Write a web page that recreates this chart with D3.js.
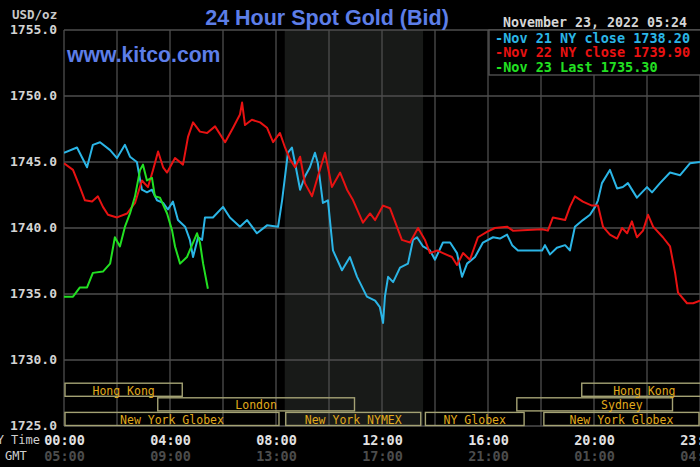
<!DOCTYPE html>
<html>
<head>
<meta charset="utf-8">
<script src="https://cdn.jsdelivr.net/npm/d3@7"></script>
<style>
  body { margin: 0; background: #000; }
  svg { display: block; }
  .mono { font-family: "DejaVu Sans Mono", monospace; }
</style>
</head>
<body>
<div id="vis"></div>
<script>
// y ticks (USD/oz) and x ticks (hours of the NY day)
const priceTicks = [1725, 1730, 1735, 1740, 1745, 1750, 1755];
const hourTicks = [0, 4, 8, 12, 16, 20, 24];
const nyLabels = ["00:00", "04:00", "08:00", "12:00", "16:00", "20:00", "23:59"];
const gmtLabels = ["05:00", "09:00", "13:00", "17:00", "21:00", "01:00", "04:59"];

// [hour, price]
const nov21 = [[0,1745.7],[0.49,1746.1],[0.87,1744.6],[1.09,1746.3],[1.36,1746.5],[1.74,1745.9],[2.0,1745.3],[2.3,1746.3],[2.49,1745.4],[2.75,1745.0],[2.94,1742.9],[3.13,1742.7],[3.32,1742.9],[3.51,1742.1],[3.74,1741.9],[3.92,1741.4],[4.11,1742.0],[4.3,1740.6],[4.57,1740.1],[4.75,1739.1],[4.87,1737.8],[5.06,1739.3],[5.21,1739.1],[5.32,1740.8],[5.62,1740.8],[6.0,1741.6],[6.26,1740.8],[6.64,1740.1],[6.91,1740.6],[7.28,1739.6],[7.66,1740.2],[8.08,1740.1],[8.23,1742.1],[8.45,1745.7],[8.6,1746.1],[8.72,1744.9],[8.91,1742.9],[9.09,1743.9],[9.28,1744.6],[9.47,1745.7],[9.58,1744.9],[9.77,1741.9],[9.96,1742.1],[10.15,1738.3],[10.49,1736.8],[10.79,1737.8],[11.06,1736.3],[11.43,1734.8],[11.74,1734.5],[11.92,1734.0],[12.04,1732.8],[12.11,1734.8],[12.23,1736.3],[12.42,1735.9],[12.68,1737.0],[12.98,1737.3],[13.17,1739.1],[13.32,1739.3],[13.55,1738.6],[13.81,1738.3],[14.0,1737.6],[14.3,1738.9],[14.57,1738.9],[14.83,1738.1],[15.02,1736.3],[15.21,1737.3],[15.51,1737.8],[15.81,1738.9],[16.19,1739.3],[16.45,1739.2],[16.72,1739.5],[16.91,1738.7],[17.13,1738.3],[18.04,1738.3],[18.15,1738.7],[18.34,1738.0],[18.6,1738.5],[18.91,1738.7],[19.09,1738.3],[19.28,1740.1],[19.58,1740.6],[19.85,1741.0],[20.04,1741.6],[20.15,1742.1],[20.3,1743.4],[20.6,1744.4],[20.87,1743.0],[21.09,1743.1],[21.28,1743.4],[21.62,1742.3],[22.0,1743.1],[22.19,1742.7],[22.49,1743.4],[22.87,1744.2],[23.25,1744.0],[23.62,1744.9],[24,1745.0]];

const nov22 = [[0,1744.9],[0.34,1744.4],[0.6,1743.1],[0.79,1742.1],[1.06,1742.0],[1.28,1742.4],[1.47,1741.6],[1.66,1741.0],[2.0,1740.8],[2.38,1741.1],[2.68,1741.9],[2.94,1743.6],[3.17,1743.1],[3.36,1744.4],[3.55,1745.8],[3.74,1744.6],[3.89,1744.2],[4.19,1745.3],[4.49,1744.8],[4.68,1746.9],[4.87,1748.0],[5.13,1747.3],[5.4,1747.2],[5.7,1747.7],[6.08,1746.5],[6.38,1747.6],[6.64,1748.6],[6.72,1749.5],[6.83,1747.8],[7.09,1748.2],[7.4,1748.0],[7.66,1747.6],[7.89,1746.5],[8.15,1747.2],[8.34,1746.1],[8.53,1745.2],[8.72,1744.6],[8.91,1745.4],[9.09,1743.4],[9.36,1742.4],[9.58,1743.9],[9.85,1745.7],[10.11,1743.1],[10.42,1744.2],[10.68,1742.9],[10.91,1742.1],[11.28,1740.4],[11.55,1741.1],[11.74,1740.6],[12.04,1741.7],[12.3,1741.5],[12.75,1739.1],[13.06,1738.9],[13.36,1740.0],[13.62,1739.1],[13.81,1738.1],[14.08,1738.3],[14.3,1738.1],[14.64,1737.8],[14.83,1737.2],[15.06,1738.1],[15.32,1737.6],[15.62,1739.3],[15.96,1739.7],[16.26,1740.0],[16.72,1740.1],[16.94,1739.8],[18.04,1739.9],[18.26,1739.8],[18.45,1740.8],[18.91,1740.6],[19.09,1741.6],[19.28,1742.4],[19.58,1742.0],[19.92,1741.7],[20.15,1741.7],[20.34,1740.1],[20.6,1739.5],[20.87,1739.2],[21.06,1740.0],[21.25,1739.6],[21.43,1740.5],[21.62,1739.3],[21.85,1739.8],[22.04,1741.0],[22.23,1740.1],[22.6,1739.3],[22.87,1738.6],[23.06,1736.6],[23.17,1735.1],[23.51,1734.3],[23.74,1734.3],[24,1734.5]];

const nov23 = [[0,1734.8],[0.34,1734.8],[0.6,1735.5],[0.87,1735.5],[1.09,1736.6],[1.47,1736.7],[1.74,1737.3],[1.92,1739.3],[2.11,1738.6],[2.3,1740.1],[2.49,1741.1],[2.68,1742.4],[2.87,1744.4],[2.98,1744.8],[3.13,1743.6],[3.32,1743.8],[3.43,1742.4],[3.62,1742.3],[3.89,1741.1],[4.08,1739.8],[4.19,1738.6],[4.38,1737.3],[4.64,1737.8],[4.83,1738.7],[5.02,1739.6],[5.13,1738.9],[5.25,1737.3],[5.43,1735.4]];

const series = [
  { name: "Nov 21 NY close 1738.20", data: nov21, color: "#2bb5e6" },
  { name: "Nov 22 NY close 1739.90", data: nov22, color: "#e81212" },
  { name: "Nov 23 Last 1735.30", data: nov23, color: "#22e022" },
];

// trading sessions: [label, row, start hour, end hour]
const sessions = [
  ["Hong Kong", 0, 0, 4.5],
  ["Hong Kong", 0, 19.5, 24.8],
  ["London", 1, 3.5, 11.0],
  ["Sydney", 1, 17.05, 23.0],
  ["New York Globex", 2, 0, 8.15],
  ["New York NYMEX", 2, 8.33, 13.5],
  ["NY Globex", 2, 13.6, 17.4],
  ["New York Globex", 2, 18.07, 24],
];
const nymexHours = [8.33, 13.55];

const W = 700, H = 467;
const plotL = 64, plotR = 700, plotT = 30, plotB = 426;

const svg = d3.select("#vis").append("svg").attr("width", W).attr("height", H);

const x = d3.scaleLinear().domain([0, 24]).range([plotL, plotR]);
const y = d3.scaleLinear().domain([1725, 1755]).range([plotB, plotT]);

// NYMEX open shading
svg.append("rect")
  .attr("x", x(nymexHours[0])).attr("y", plotT)
  .attr("width", x(nymexHours[1]) - x(nymexHours[0]))
  .attr("height", plotB - plotT)
  .attr("fill", "#181a18");

// grid
const grid = svg.append("g").attr("stroke", "#4e4e4e").attr("stroke-width", 1.3);
grid.selectAll(".v").data(d3.range(0, 25, 2)).join("line")
  .attr("x1", d => x(d)).attr("x2", d => x(d))
  .attr("y1", plotT).attr("y2", plotB);
grid.selectAll(".h").data(priceTicks).join("line")
  .attr("x1", plotL).attr("x2", plotR)
  .attr("y1", d => y(d)).attr("y2", d => y(d));

// session boxes
const rowH = 14.6;
const sess = svg.append("g");
sess.selectAll("rect").data(sessions).join("rect")
  .attr("x", d => x(d[2]) + 1)
  .attr("y", d => plotB - (3 - d[1]) * rowH + 1)
  .attr("width", d => x(d[3]) - x(d[2]) - 2)
  .attr("height", rowH - 1.5)
  .attr("fill", "none")
  .attr("stroke", "#a4a274")
  .attr("stroke-width", 1.4);
sess.selectAll("text").data(sessions).join("text")
  .attr("class", "mono")
  .attr("x", d => d[0] === "Sydney" ? x(21.05) : x((d[2] + Math.min(d[3], 24.3)) / 2))
  .attr("y", d => plotB - (3 - d[1]) * rowH + rowH / 2 + 1)
  .attr("dy", "0.35em")
  .attr("text-anchor", "middle")
  .attr("font-size", 11.5)
  .attr("fill", "#e0aa1c")
  .text(d => d[0]);

// price lines
svg.append("clipPath").attr("id", "clip")
  .append("rect").attr("x", plotL).attr("y", plotT).attr("width", plotR - plotL).attr("height", plotB - plotT);
const line = d3.line().x(d => x(d[0])).y(d => y(d[1]));
svg.append("g").attr("clip-path", "url(#clip)")
  .selectAll("path").data(series).join("path")
  .attr("d", d => line(d.data))
  .attr("fill", "none")
  .attr("stroke", d => d.color)
  .attr("stroke-width", 2)
  .attr("stroke-linejoin", "round");

// y axis labels
const yAxis = svg.append("g")
  .attr("transform", `translate(${plotL - 4},0)`)
  .call(d3.axisLeft(y).tickValues(priceTicks).tickSize(0).tickFormat(d3.format(".1f")));
yAxis.select(".domain").remove();
yAxis.selectAll("text")
  .attr("class", "mono").attr("font-size", 13).attr("font-weight", "bold")
  .attr("fill", "#d4d4d4").attr("dy", "0.3em");

svg.append("text").attr("class", "mono")
  .attr("x", 12).attr("y", 19).attr("font-size", 12.5).attr("font-weight", "bold")
  .attr("fill", "#c8c8c8").text("USD/oz");

// x axis labels: NY time and GMT
const xAxis = svg.append("g")
  .attr("transform", `translate(0,${plotB + 6})`)
  .call(d3.axisBottom(x).tickValues(hourTicks).tickSize(0).tickFormat((d, i) => nyLabels[i]));
xAxis.select(".domain").remove();
xAxis.selectAll("text")
  .attr("class", "mono").attr("font-size", 13.5).attr("font-weight", "bold")
  .attr("fill", "#e2e2e2");

const gAxis = svg.append("g")
  .attr("transform", `translate(0,${plotB + 22})`)
  .call(d3.axisBottom(x).tickValues(hourTicks).tickSize(0).tickFormat((d, i) => gmtLabels[i]));
gAxis.select(".domain").remove();
gAxis.selectAll("text")
  .attr("class", "mono").attr("font-size", 13.5).attr("font-weight", "bold")
  .attr("fill", "#4c4c4c");

svg.append("text").attr("class", "mono")
  .attr("x", 40).attr("y", 444).attr("text-anchor", "end")
  .attr("font-size", 12).attr("fill", "#cfcfcf").text("NY Time");
svg.append("text").attr("class", "mono")
  .attr("x", 5).attr("y", 460)
  .attr("font-size", 12).attr("fill", "#cfcfcf").text("GMT");

// titles
svg.append("text")
  .attr("x", 327).attr("y", 25).attr("text-anchor", "middle")
  .attr("font-family", "Liberation Sans, Arial, sans-serif")
  .attr("font-size", 21.5).attr("font-weight", "bold")
  .attr("fill", "#5d7ee8").text("24 Hour Spot Gold (Bid)");
svg.append("text")
  .attr("x", 67).attr("y", 62)
  .attr("font-family", "Liberation Sans, Arial, sans-serif")
  .attr("font-size", 21.2).attr("font-weight", "bold")
  .attr("fill", "#5d7ee8").text("www.kitco.com");
svg.append("text").attr("class", "mono")
  .attr("x", 503).attr("y", 27)
  .attr("font-size", 13.3).attr("font-weight", "bold")
  .attr("fill", "#d6d6d6").text("November 23, 2022 05:24");

// legend box
const lg = svg.append("g");
lg.append("rect")
  .attr("x", 489).attr("y", plotT).attr("width", 230).attr("height", 45)
  .attr("fill", "#000").attr("stroke", "#555").attr("stroke-width", 1.3);
lg.selectAll("text").data(series).join("text")
  .attr("class", "mono")
  .attr("x", 495).attr("y", (d, i) => 38 + i * 14.5)
  .attr("dy", "0.35em")
  .attr("font-size", 13.5).attr("font-weight", "bold")
  .attr("fill", d => d.color)
  .text(d => "-" + d.name);
</script>
</body>
</html>
